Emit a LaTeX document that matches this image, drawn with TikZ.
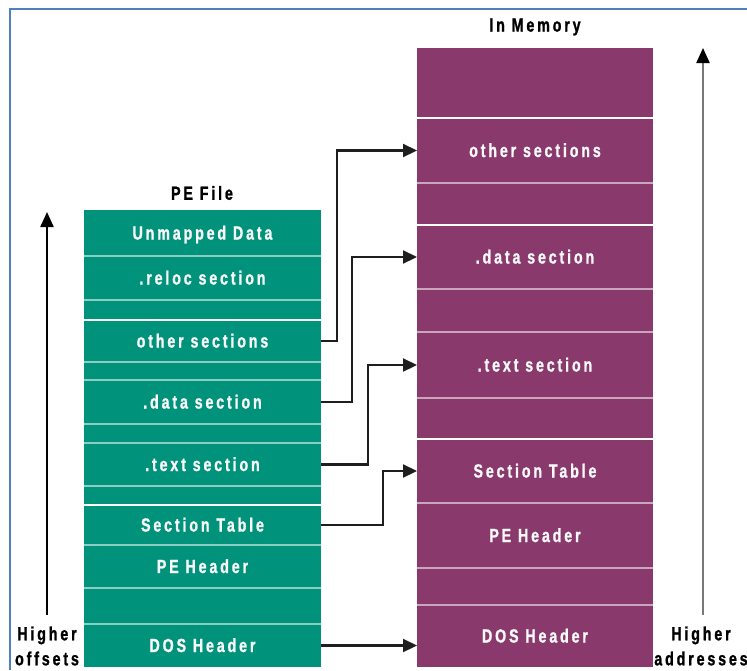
\documentclass[tikz,border=0pt]{standalone}
\usepackage{fontspec}
\newfontfamily\lblfont[FakeStretch=0.75,LetterSpace=15,FakeBold=1.2]{Liberation Sans Bold}
\usetikzlibrary{arrows.meta}
\definecolor{peteal}{RGB}{0,146,122}
\definecolor{mempurple}{RGB}{137,57,107}
\definecolor{frameblue}{RGB}{79,129,189}
\definecolor{conngray}{RGB}{30,30,30}
\definecolor{shaftgray}{RGB}{120,120,120}
\begin{document}
\begin{tikzpicture}[x=1pt,y=-1pt,
  lbl/.style={font=\lblfont\fontsize{19}{25}\selectfont},
  row/.style={lbl, inner sep=0pt, outer sep=0pt, anchor=north west, text=white!95!gray,
    text height=13pt, text depth=0pt},
  perow/.style={row, fill=peteal, minimum width=237pt},
  memrow/.style={row, fill=mempurple, minimum width=236pt},
  sepl/.style={line width=2.5pt},
  sepw/.style={draw=white, line width=1.6pt},
  conn/.style={draw=conngray, line width=2.2pt, -{Triangle[length=14pt,width=13pt]}},
  bigarrow/.style={line width=2.2pt, -{Triangle[length=15pt,width=13pt,color=black]}},
  title/.style={lbl, text=black, inner sep=0pt},
  side/.style={lbl, text=black, inner sep=0pt, align=center}
]
\useasboundingbox (0,0) rectangle (747,670);
% frame
\coordinate (fbl) at (10,670);
\coordinate (ftl) at (10,9);
\coordinate (ftr) at (747,9);
\draw[frameblue, line width=2.5pt] (fbl) -- (ftl) -- (ftr);

% PE file column
\node[title] (petitle) at (202,193) {PE File};
\node[perow, minimum height=46pt] (pe1) at (84,210) {Unmapped Data};
\node[perow, minimum height=44pt] (pe2) at (pe1.south west) {.reloc section};
\node[perow, minimum height=20pt] (pe3) at (pe2.south west) {};
\node[perow, minimum height=42pt] (pe4) at (pe3.south west) {other sections};
\node[perow, minimum height=18pt] (pe5) at (pe4.south west) {};
\node[perow, minimum height=44pt] (pe6) at (pe5.south west) {.data section};
\node[perow, minimum height=19pt] (pe7) at (pe6.south west) {};
\node[perow, minimum height=43pt] (pe8) at (pe7.south west) {.text section};
\node[perow, minimum height=19pt] (pe9) at (pe8.south west) {};
\node[perow, minimum height=40pt] (pe10) at (pe9.south west) {Section Table};
\node[perow, minimum height=43pt] (pe11) at (pe10.south west) {PE Header};
\node[perow, minimum height=36pt] (pe12) at (pe11.south west) {};
\node[perow, minimum height=43pt] (pe13) at (pe12.south west) {DOS Header};

\foreach \r in {pe1,pe2,pe4,pe5,pe6,pe7,pe8,pe10,pe11,pe12}
  \draw[sepl, peteal!45!white] (\r.south west) -- (\r.south east);
\foreach \r in {pe3,pe9}
  \draw[sepw] (\r.south west) -- (\r.south east);

% memory column
\node[title] (memtitle) at (535,27) {In Memory};
\node[memrow, minimum height=70pt] (m1) at (417,48) {};
\node[memrow, minimum height=65pt] (m2) at (m1.south west) {other sections};
\node[memrow, minimum height=42pt] (m3) at (m2.south west) {};
\node[memrow, minimum height=64pt] (m4) at (m3.south west) {.data section};
\node[memrow, minimum height=43pt] (m5) at (m4.south west) {};
\node[memrow, minimum height=66pt] (m6) at (m5.south west) {.text section};
\node[memrow, minimum height=41pt] (m7) at (m6.south west) {};
\node[memrow, minimum height=64pt] (m8) at (m7.south west) {Section Table};
\node[memrow, minimum height=65pt] (m9) at (m8.south west) {PE Header};
\node[memrow, minimum height=37pt] (m10) at (m9.south west) {};
\node[memrow, minimum height=62pt] (m11) at (m10.south west) {DOS Header};

\foreach \r in {m2,m4,m5,m6,m8,m9,m10}
  \draw[sepl, mempurple!45!white] (\r.south west) -- (\r.south east);
\foreach \r in {m1,m3,m7}
  \draw[sepw] (\r.south west) -- (\r.south east);

% connectors
\draw[conn] (pe4.east) -- ++(16,0) |- (m2.west);
\draw[conn] (pe6.east) -- ++(31,0) |- (m4.west);
\draw[conn] (pe8.east) -- ++(47,0) |- (m6.west);
\draw[conn] (pe10.east) -- ++(62,0) |- (m8.west);
\draw[conn] (pe13.east) -- (pe13.east -| m11.west);

% side arrows
\coordinate (lb) at (47,615);
\coordinate (lt) at (47,212);
\draw[bigarrow, draw=black] (lb) -- (lt);
\node[side] (lefttxt) at (47,646) {Higher\\offsets};
\coordinate (rb) at (703,615);
\coordinate (rt) at (703,48);
\draw[bigarrow, draw=shaftgray] (rb) -- (rt);
\node[side] (righttxt) at (701,646) {Higher\\addresses};
\end{tikzpicture}
\end{document}
